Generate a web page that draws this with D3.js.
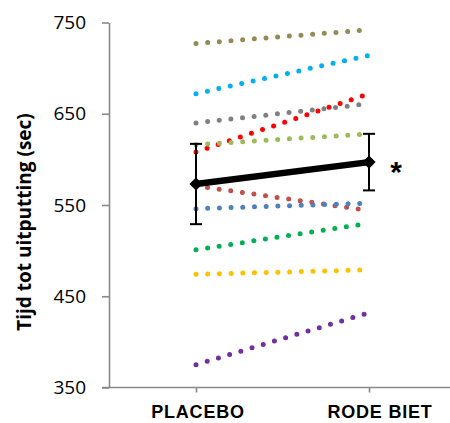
<!DOCTYPE html>
<html>
<head>
<meta charset="utf-8">
<script src="https://cdn.jsdelivr.net/npm/d3@7"></script>
<style>
  body { margin: 0; background: #fff; }
  svg { display: block; }
</style>
</head>
<body>
<svg id="chart" width="450" height="423"></svg>
<script>
// conditions on the x axis
const categories = ['PLACEBO', 'RODE BIET'];
// individual subjects (sec), placebo vs beetroot
const subjectColors = ['#948A54', '#00B0F0', '#808080', '#FF0000', '#9BBB59', '#C0504D', '#4F81BD', '#00B050', '#FFC000', '#7030A0'];
const placeboValues = [727, 672, 640, 608, 616, 571, 546, 501, 474, 375];
const beetValues    = [742, 714, 661, 672, 628, 544, 552, 530, 479, 432];
// group mean and error
const meanValues = [573, 597];
const errValues = [44, 31];
const yTicks = [350, 450, 550, 650, 750];

const svg = d3.select('#chart');

const x = d3.scalePoint()
    .domain(categories)
    .range([109.5, 455.5])
    .padding(0.5);

const y = d3.scaleLinear()
    .domain([350, 750])
    .range([387.5, 22.5]);

const axisColor = '#898989';

// y axis
const yAxisG = svg.append('g')
    .attr('transform', 'translate(109,0)')
    .call(d3.axisLeft(y).tickValues(yTicks).tickSize(7).tickPadding(16).tickSizeOuter(0));
yAxisG.select('.domain').attr('stroke', axisColor).attr('stroke-width', 1.6);
yAxisG.selectAll('.tick line').attr('stroke', axisColor).attr('stroke-width', 1.6);
yAxisG.selectAll('.tick text')
    .attr('fill', '#000')
    .style('font-family', '"Open Sans", sans-serif')
    .style('font-size', '19px');

// x axis
const xAxisG = svg.append('g')
    .attr('transform', `translate(0,${y(350)})`)
    .call(d3.axisBottom(x).tickSize(5).tickSizeOuter(0).tickFormat(''));
xAxisG.select('.domain').attr('stroke', axisColor).attr('stroke-width', 1.6)
    .attr('d', 'M102,0H455.5');
xAxisG.selectAll('.tick line').attr('stroke', axisColor).attr('stroke-width', 1.6);

const labelShift = { 'PLACEBO': 2, 'RODE BIET': 11 };
svg.append('g').selectAll('text')
    .data(categories)
    .enter().append('text')
    .attr('x', d => x(d) + labelShift[d])
    .attr('y', 418)
    .attr('text-anchor', 'middle')
    .style('font-family', '"Liberation Sans", Arial, sans-serif')
    .style('font-weight', 'bold')
    .style('font-size', '18px')
    .style('letter-spacing', '0.8px')
    .text(d => d);

// y axis label
svg.append('text')
    .attr('transform', 'translate(31,222) rotate(-90)')
    .attr('text-anchor', 'middle')
    .style('font-family', '"Open Sans", sans-serif')
    .style('font-weight', 'bold')
    .style('font-size', '19px')
    .text('Tijd tot uitputting (sec)');

// subject lines (dotted)
const subjects = placeboValues.map((v, i) => ({ values: [v, beetValues[i]], color: subjectColors[i] }));
const line = d3.line()
    .x((d, i) => x(categories[i]))
    .y(d => y(d));

svg.append('g').selectAll('path')
    .data(subjects)
    .enter().append('path')
    .attr('d', d => line(d.values))
    .attr('fill', 'none')
    .attr('stroke', d => d.color)
    .attr('stroke-width', 5)
    .attr('stroke-linecap', 'round')
    .attr('stroke-dasharray', '0 11.7');

// error bars
const eb = svg.append('g');
meanValues.forEach((m, i) => {
    const cx = x(categories[i]);
    eb.append('line')
        .attr('x1', cx).attr('x2', cx)
        .attr('y1', y(m + errValues[i])).attr('y2', y(m - errValues[i]))
        .attr('stroke', '#000').attr('stroke-width', 2);
    [m + errValues[i], m - errValues[i]].forEach(v => {
        eb.append('line')
            .attr('x1', cx - 6).attr('x2', cx + 6)
            .attr('y1', y(v)).attr('y2', y(v))
            .attr('stroke', '#000').attr('stroke-width', 2);
    });
});

// mean line
svg.append('path')
    .attr('d', line(meanValues))
    .attr('fill', 'none')
    .attr('stroke', '#000')
    .attr('stroke-width', 6.5);

svg.append('g').selectAll('path')
    .data(meanValues)
    .enter().append('path')
    .attr('transform', (d, i) => `translate(${x(categories[i])},${y(d)})`)
    .attr('d', d3.symbol(d3.symbolDiamond2, 110))
    .attr('fill', '#000');

// significance marker
svg.append('text')
    .attr('x', x(categories[1]) + 27)
    .attr('y', y(meanValues[1]) + 20)
    .attr('text-anchor', 'middle')
    .style('font-family', '"Liberation Sans", Arial, sans-serif')
    .style('font-weight', 'bold')
    .style('font-size', '30px')
    .text('*');
</script>
</body>
</html>
